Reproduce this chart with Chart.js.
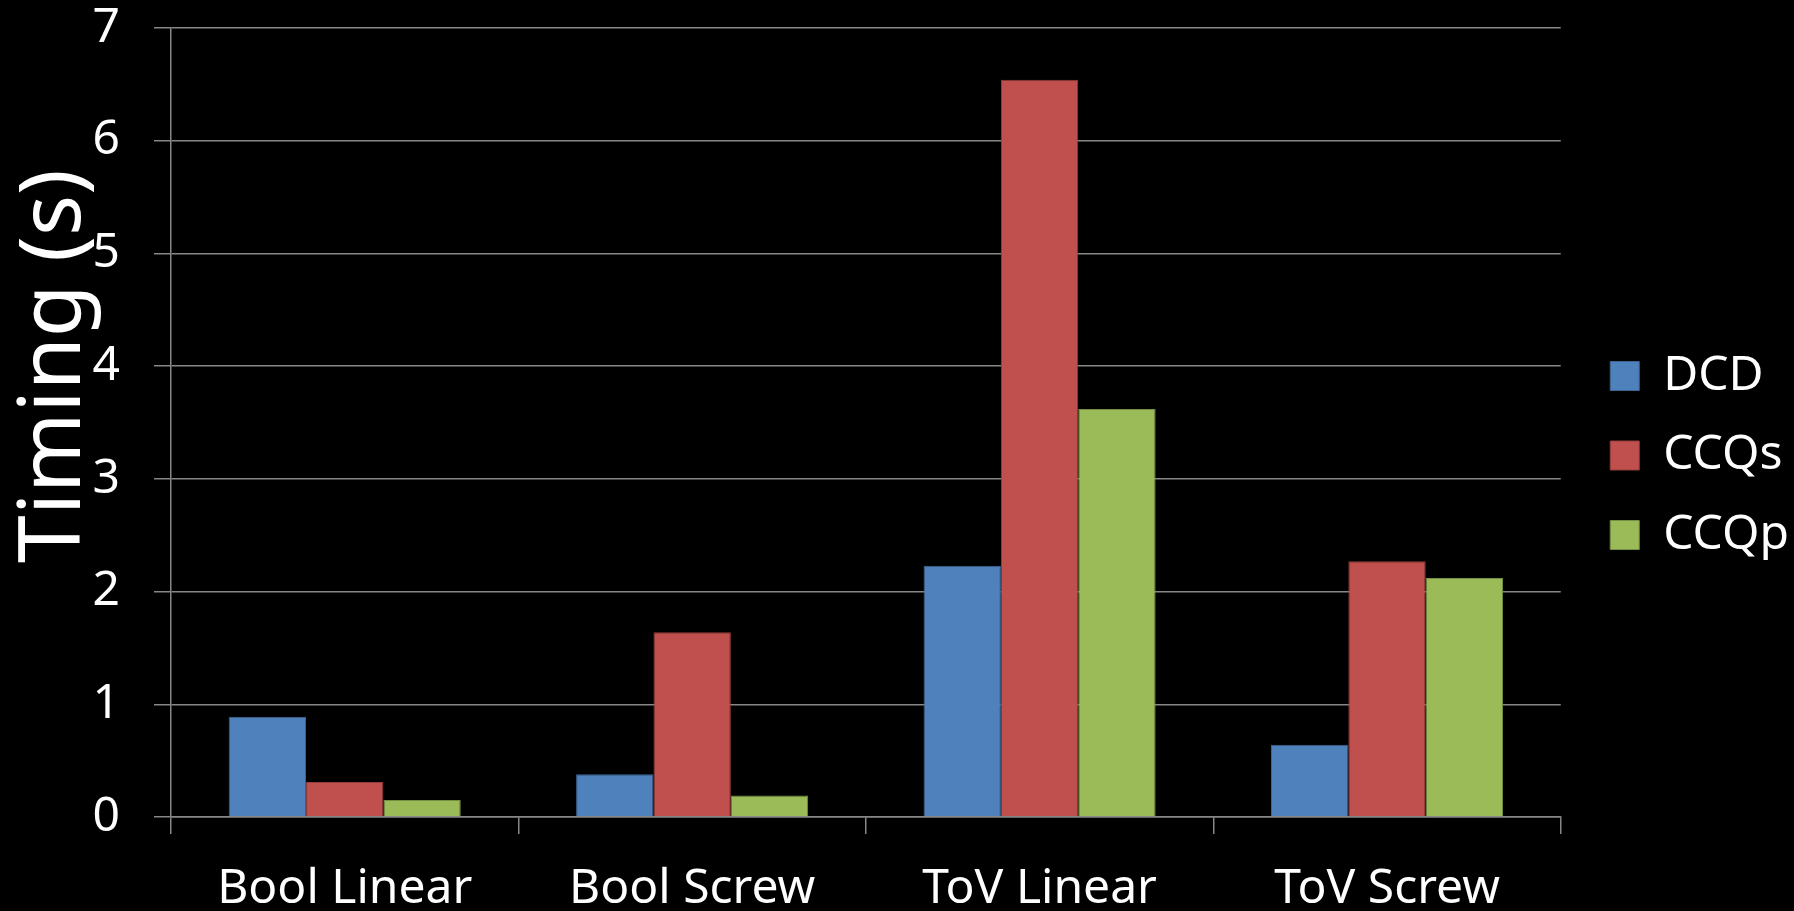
<!DOCTYPE html>
<html>
<head>
<meta charset="utf-8">
<script src="https://cdn.jsdelivr.net/npm/chart.js@4"></script>
<style>
  html, body { margin: 0; padding: 0; background: #000; }
  #wrap { width: 1794px; height: 911px; }
</style>
</head>
<body>
<div id="wrap"><canvas id="myChart"></canvas></div>
<script>
const categories = ["Bool Linear", "Bool Screw", "ToV Linear", "ToV Screw"];
const dcd = [0.89, 0.38, 2.23, 0.64];
const ccqs = [0.31, 1.64, 6.54, 2.27];
const ccqp = [0.15, 0.19, 3.62, 2.12];
const yTicks = [0, 1, 2, 3, 4, 5, 6, 7];

const FONT = "'Noto Sans', 'Open Sans', sans-serif";
const GRID = "#878787";

// y axis title drawn by hand so it can overlap the tick labels like the original
const axisTitle = {
  id: "axisTitle",
  afterDraw(chart) {
    const ctx = chart.ctx;
    ctx.save();
    ctx.translate(80, 366);
    ctx.rotate(-Math.PI / 2);
    ctx.fillStyle = "#fff";
    ctx.font = "86px " + FONT;
    ctx.textAlign = "center";
    ctx.textBaseline = "alphabetic";
    ctx.fillText("Timing (s)", 0, 0);
    ctx.restore();
  },
};

const ctx = document.querySelector("#myChart");
new Chart(ctx, {
  type: "bar",
  data: {
    labels: categories,
    datasets: [
      { label: "DCD", data: dcd, backgroundColor: "#4F81BD", borderColor: "#3d6591", borderWidth: 1 },
      { label: "CCQs", data: ccqs, backgroundColor: "#C0504D", borderColor: "#943d3b", borderWidth: 1 },
      { label: "CCQp", data: ccqp, backgroundColor: "#9BBB59", borderColor: "#768f44", borderWidth: 1 },
    ],
  },
  options: {
    responsive: true,
    maintainAspectRatio: false,
    animation: false,
    layout: { padding: { top: 0, left: 0, right: -5, bottom: 0 } },
    datasets: { bar: { categoryPercentage: 0.668, barPercentage: 1 } },
    plugins: {
      tooltip: { enabled: false },
      legend: {
        position: "right",
        labels: {
          color: "#fff",
          font: { family: FONT, size: 48 },
          boxWidth: 29,
          boxHeight: 29,
          padding: 31.5,
        },
      },
    },
    scales: {
      x: {
        grid: { drawOnChartArea: false, drawTicks: true, tickLength: 17, offset: true, color: GRID, lineWidth: 1.5 },
        border: { display: true, color: GRID, width: 1.5 },
        ticks: { color: "#fff", font: { family: FONT, size: 48 }, padding: 27, maxRotation: 0 },
        afterFit(scale) { scale.height = 94; },
      },
      y: {
        min: 0,
        max: 7,
        afterBuildTicks(scale) { scale.ticks = yTicks.map(v => ({ value: v })); },
        grid: { color: GRID, lineWidth: 1.5, tickLength: 17 },
        border: { display: true, color: GRID, width: 1.5 },
        ticks: { color: "#fff", font: { family: FONT, size: 48, lineHeight: 1 }, padding: 34 },
        afterFit(scale) {
          scale.width = 171;
          scale.paddingTop = 28;
          scale.paddingBottom = 24;
        },
      },
      gap: {
        position: "right",
        grid: { display: false },
        border: { display: false },
        ticks: { display: false },
        afterFit(scale) { scale.width = 18; },
      },
    },
  },
  plugins: [axisTitle],
});
</script>
</body>
</html>
